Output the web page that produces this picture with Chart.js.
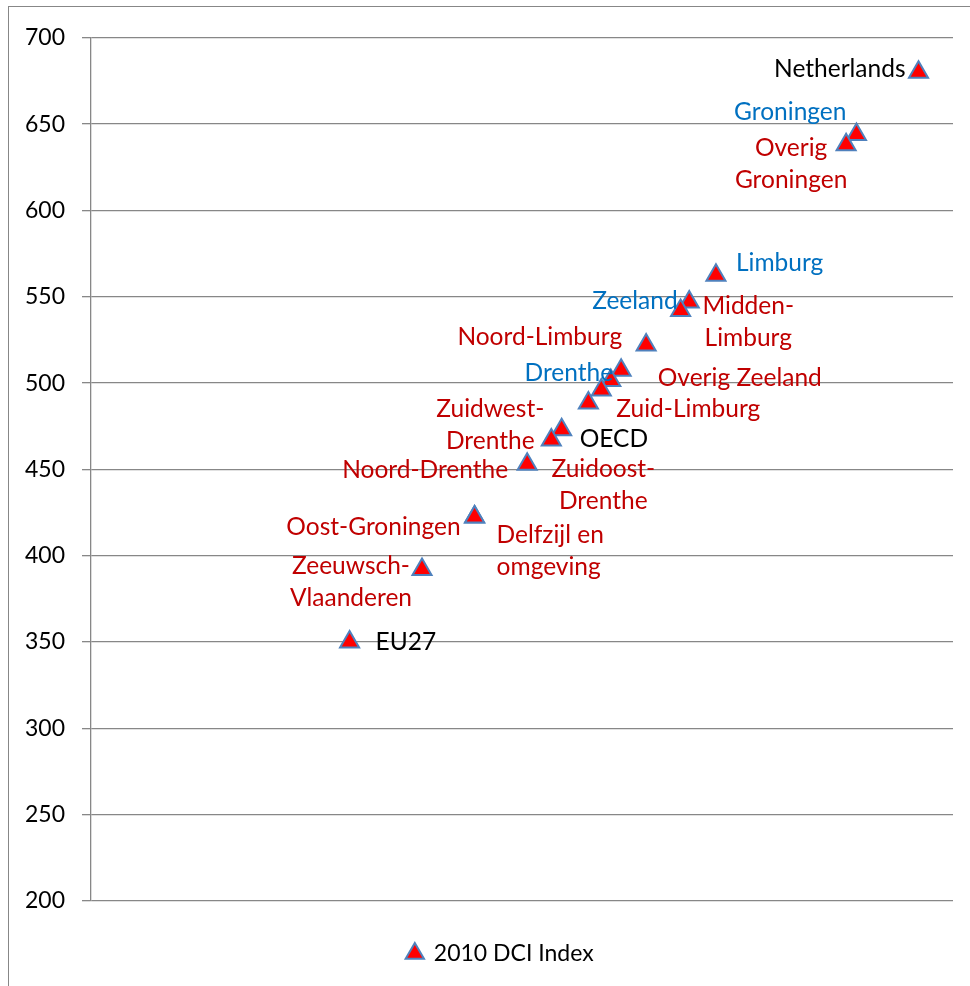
<!DOCTYPE html>
<html>
<head>
<meta charset="utf-8">
<script src="https://cdn.jsdelivr.net/npm/chart.js@4.4.1/dist/chart.umd.min.js"></script>
<style>
  html, body { margin: 0; padding: 0; background: #fff; overflow: hidden; }
  #frame {
    position: absolute; left: 8px; top: 6px; width: 980px; height: 990px;
    border-left: 1px solid #878787; border-top: 1px solid #878787;
  }
  canvas { display: block; }
</style>
</head>
<body>
<div id="frame"><canvas id="dciChart" width="961" height="979"></canvas></div>
<script>
// Regions and their 2010 DCI index (same value on both axes, points run along the diagonal)
const regions = [
  'Netherlands', 'Groningen', 'Overig Groningen', 'Limburg', 'Midden-Limburg',
  'Zeeland', 'Noord-Limburg', 'Drenthe', 'Overig Zeeland', 'Zuidoost-Drenthe',
  'Zuid-Limburg', 'OECD', 'Zuidwest-Drenthe', 'Noord-Drenthe', 'Oost-Groningen',
  'Delfzijl en omgeving', 'Zeeuwsch-Vlaanderen', 'EU27'
];
const dci2010 = [680, 644, 638, 562.5, 547, 542, 522, 507.5, 501.5, 496, 488.5, 473, 467, 453, 422.5, 422.5, 392, 350];
const yTicks = [200, 250, 300, 350, 400, 450, 500, 550, 600, 650, 700];
const seriesName = '2010 DCI Index';

// label look: colour and how the text sits next to its marker
const RED = '#c00000', BLUE = '#0070c0', BLACK = '#000000';
const labelStyle = [
  { c: BLACK, lines: ['Netherlands'], align: 'right', dx: -13, dy: -3 },
  { c: BLUE, lines: ['Groningen'], align: 'right', dx: -10, dy: -22 },
  { c: RED, lines: ['Overig', 'Groningen'], align: 'center', dx: -55, dy: 3 },
  { c: BLUE, lines: ['Limburg'], align: 'left', dx: 20, dy: -12 },
  { c: RED, lines: ['Midden-', 'Limburg'], align: 'center', dx: 59, dy: 4 },
  { c: BLUE, lines: ['Zeeland'], align: 'right', dx: -3, dy: -9 },
  { c: RED, lines: ['Noord-Limburg'], align: 'right', dx: -24, dy: -8 },
  { c: BLUE, lines: ['Drenthe'], align: 'right', dx: -8, dy: 3 },
  { c: RED, lines: ['Overig Zeeland'], align: 'left', dx: 47, dy: -2 },
  { c: RED, lines: ['Zuidoost-', 'Drenthe'], align: 'center', dx: 2, dy: 79 },
  { c: RED, lines: ['Zuid-Limburg'], align: 'left', dx: 28, dy: 6 },
  { c: BLACK, lines: ['OECD'], align: 'left', dx: 18, dy: 9 },
  { c: RED, lines: ['Zuidwest-', 'Drenthe'], align: 'center', dx: -61, dy: -31 },
  { c: RED, lines: ['Noord-Drenthe'], align: 'right', dx: -19, dy: 6 },
  { c: RED, lines: ['Oost-Groningen'], align: 'right', dx: -14, dy: 10 },
  { c: RED, lines: ['Delfzijl en', 'omgeving'], align: 'left', dx: 22, dy: 18 },
  { c: RED, lines: ['Zeeuwsch-', 'Vlaanderen'], align: 'center', dx: -71, dy: -3 },
  { c: BLACK, lines: ['EU27'], align: 'left', dx: 26, dy: 0 }
];

const FONT = 'Lato';
Chart.defaults.font.family = FONT;
Chart.defaults.color = '#000';

// Draw the region names next to their markers
const pointLabels = {
  id: 'pointLabels',
  afterDatasetsDraw(chart) {
    const ctx = chart.ctx;
    const meta = chart.getDatasetMeta(0);
    ctx.save();
    ctx.font = '24.5px ' + FONT;
    ctx.textBaseline = 'middle';
    meta.data.forEach((pt, i) => {
      const s = labelStyle[i];
      ctx.fillStyle = s.c;
      ctx.textAlign = s.align;
      s.lines.forEach((line, j) => {
        ctx.fillText(line, pt.x + s.dx, pt.y + s.dy + j * 32);
      });
    });
    ctx.restore();
  }
};

// Excel centres the legend a bit right of the canvas middle
const legendShift = {
  id: 'legendShift',
  afterLayout(chart) {
    if (chart.legend) {
      chart.legend.left += 16;
      chart.legend.right += 16;
    }
  }
};

const ctx = document.getElementById('dciChart').getContext('2d');
new Chart(ctx, {
  type: 'scatter',
  data: {
    datasets: [{
      label: seriesName,
      data: dci2010.map(v => ({ x: v, y: v })),
      pointStyle: 'triangle',
      pointRadius: 11,
      pointHoverRadius: 11,
      backgroundColor: '#ff0000',
      borderColor: '#4f81bd',
      borderWidth: 2
    }]
  },
  options: {
    responsive: false,
    devicePixelRatio: 1,
    animation: false,
    layout: { padding: { left: 7, right: 17, top: 29, bottom: 11 } },
    plugins: {
      legend: {
        position: 'bottom',
        labels: {
          usePointStyle: true,
          boxWidth: 15,
          boxHeight: 15,
          padding: 41,
          font: { size: 23 },
          color: '#000'
        }
      },
      tooltip: { enabled: false }
    },
    scales: {
      x: { type: 'linear', min: 200, max: 700, display: false },
      y: {
        min: 200,
        max: 700,
        afterBuildTicks(scale) {
          scale.ticks = yTicks.map(v => ({ value: v }));
        },
        afterFit(scale) {
          scale.width = 75;
        },
        ticks: { font: { size: 23 }, color: '#000', padding: 17 },
        grid: { color: '#878787', lineWidth: 1.3, tickLength: 9, drawTicks: true },
        border: { display: true, color: '#878787', width: 1.3 }
      }
    }
  },
  plugins: [pointLabels, legendShift]
});
</script>
</body>
</html>
